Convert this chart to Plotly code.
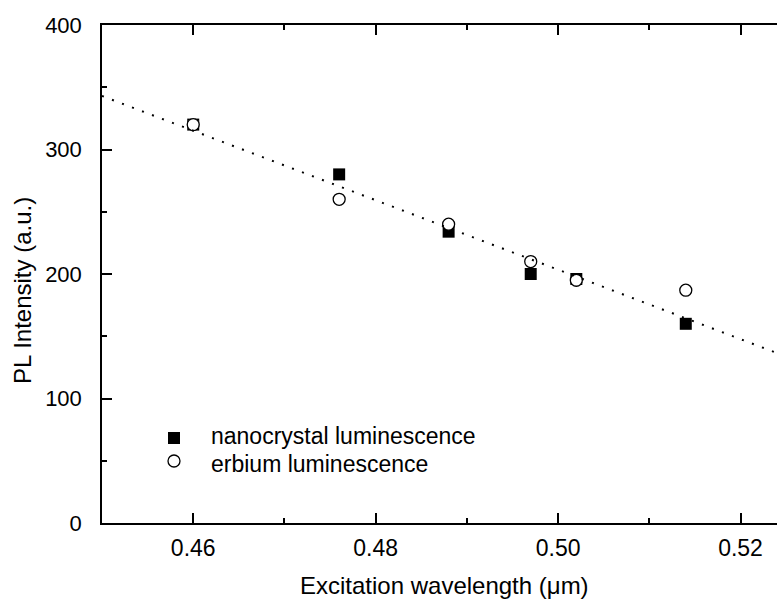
import plotly.graph_objects as go

# ---- data ----
wavelength = [0.460, 0.476, 0.488, 0.497, 0.502, 0.514]
nano_pl = [320, 280, 234, 200, 196, 160]
erbium_pl = [320, 260, 240, 210, 195, 187]
fit_x = [0.450, 0.524]
fit_y = [343, 136.5]

x_ticks = [0.46, 0.48, 0.50, 0.52]
x_ticktext = ["0.46", "0.48", "0.50", "0.52"]
y_ticks = [0, 100, 200, 300, 400]

legend_names = ["nanocrystal luminescence", "erbium luminescence"]

# ---- layout geometry (pixels) ----
W, H = 777, 599
L, R, T, B = 102, 0, 25, 76
PW, PH = W - L - R, H - T - B
FONT = "Liberation Sans, Arial, sans-serif"


def px(xp):
    return (xp - L) / PW


def py(yp):
    return (H - B - yp) / PH


fig = go.Figure()

fig.add_trace(go.Scatter(
    x=wavelength, y=nano_pl, mode="markers", name=legend_names[0],
    marker=dict(symbol="square", size=12, color="black", line=dict(width=0)),
    showlegend=False, cliponaxis=False))
fig.add_trace(go.Scatter(
    x=wavelength, y=erbium_pl, mode="markers", name=legend_names[1],
    marker=dict(symbol="circle", size=12, color="white",
                line=dict(width=1.3, color="black")),
    showlegend=False, cliponaxis=False))
fig.add_trace(go.Scatter(
    x=fit_x, y=fit_y, mode="lines", showlegend=False,
    line=dict(color="black", width=2, dash="2px,8.7px")))

# manual legend (symbols + labels)
shapes = [
    dict(type="rect", xref="paper", yref="paper",
         x0=px(168), x1=px(180), y0=py(444), y1=py(432),
         fillcolor="black", line=dict(width=0)),
    dict(type="circle", xref="paper", yref="paper",
         x0=px(168), x1=px(180), y0=py(467), y1=py(455),
         fillcolor="white", line=dict(width=1.3, color="black")),
]

annotations = [
    dict(text=legend_names[0], xref="paper", yref="paper", x=px(210), y=py(436),
         xanchor="left", yanchor="middle", showarrow=False, borderpad=0,
         font=dict(family=FONT, size=23, color="black")),
    dict(text=legend_names[1], xref="paper", yref="paper", x=px(210), y=py(464),
         xanchor="left", yanchor="middle", showarrow=False, borderpad=0,
         font=dict(family=FONT, size=23, color="black")),
    dict(text="Excitation wavelength (\u03bcm)", xref="paper", yref="paper",
         x=px(444), y=py(585), xanchor="center", yanchor="middle", showarrow=False,
         font=dict(family=FONT, size=24, color="black")),
    dict(text="PL Intensity (a.u.)", xref="paper", yref="paper",
         x=px(22), y=py(291), xanchor="center", yanchor="middle", showarrow=False,
         textangle=-90, font=dict(family=FONT, size=24, color="black")),
]

fig.update_layout(
    width=W, height=H,
    margin=dict(l=L, r=R, t=T, b=B, pad=0),
    paper_bgcolor="white", plot_bgcolor="white",
    shapes=shapes, annotations=annotations,
    font=dict(family=FONT, size=22, color="black"),
    xaxis=dict(
        range=[0.45, 0.524], tickvals=x_ticks, ticktext=x_ticktext,
        ticks="inside", ticklen=10, tickwidth=1.5, tickcolor="black",
        minor=dict(dtick=0.01, tick0=0.45, ticks="inside", ticklen=5,
                   tickwidth=1.5, tickcolor="black"),
        showline=True, linewidth=1.5, linecolor="black", mirror="ticks",
        showgrid=False, zeroline=False,
        tickfont=dict(family=FONT, size=23, color="black"),
        ticklabelstandoff=4,
    ),
    yaxis=dict(
        range=[0, 400], tickvals=y_ticks,
        ticks="inside", ticklen=10, tickwidth=1.5, tickcolor="black",
        minor=dict(dtick=50, tick0=0, ticks="inside", ticklen=5,
                   tickwidth=1.5, tickcolor="black"),
        showline=True, linewidth=1.5, linecolor="black", mirror=False,
        showgrid=False, zeroline=False,
        tickfont=dict(family=FONT, size=22, color="black"),
        ticklabelstandoff=14,
    ),
)

fig.write_html("out.html")
